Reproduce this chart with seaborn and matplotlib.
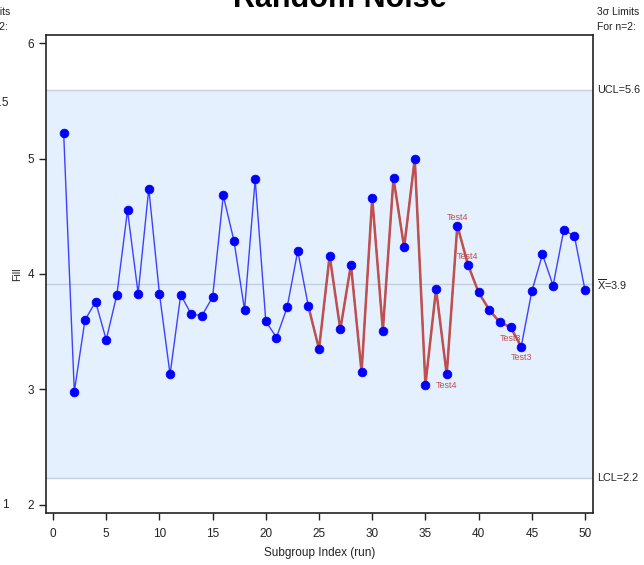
import matplotlib
matplotlib.use("Agg")
import matplotlib.pyplot as plt
import seaborn as sns
import pandas as pd

runs = list(range(1, 51))
values = [5.22, 2.98, 3.60, 3.76, 3.43, 3.82, 4.55, 3.83, 4.74, 3.83,
          3.13, 3.82, 3.65, 3.64, 3.80, 4.68, 4.29, 3.69, 4.82, 3.59,
          3.45, 3.71, 4.20, 3.72, 3.35, 4.16, 3.52, 4.08, 3.15, 4.66,
          3.51, 4.83, 4.23, 5.00, 3.04, 3.87, 3.13, 4.42, 4.08, 3.84,
          3.69, 3.58, 3.54, 3.37, 3.85, 4.17, 3.90, 4.38, 4.33, 3.86]
ucl, center, lcl = 5.59, 3.91, 2.23
limit_labels = ["UCL=5.6", r"$\overline{\mathrm{X}}$=3.9", "LCL=2.2"]
flag_start, flag_end = 24, 44
test_runs = [37, 38, 39, 43, 44]
test_labels = ["Test4", "Test4", "Test4", "Test3", "Test3"]
x_ticks = [0, 5, 10, 15, 20, 25, 30, 35, 40, 45, 50]
y_ticks = [2, 3, 4, 5, 6]

df = pd.DataFrame({"run": runs, "value": values})
flag = df[(df.run >= flag_start) & (df.run <= flag_end)]

sns.set_style("white")
plt.rcParams["font.family"] = ["Liberation Sans", "DejaVu Sans"]
plt.rcParams["mathtext.fontset"] = "custom"
plt.rcParams["mathtext.rm"] = "Liberation Sans"

fig = plt.figure(figsize=(6.44, 5.65), dpi=100)
ax = fig.add_axes([46/644, 1-513/565, 547/644, 478/565])

ax.axhspan(lcl, ucl, color="#E4F0FD", zorder=0, lw=0)
for v in (ucl, center, lcl):
    ax.axhline(v, color="#C3CEDE", lw=1.0, zorder=1)

sns.lineplot(data=df, x="run", y="value", ax=ax, color="#2222FF", lw=1.0,
             alpha=0.85, zorder=2, estimator=None, sort=False)
sns.lineplot(data=flag, x="run", y="value", ax=ax, color="#C0504D", lw=1.8,
             zorder=3, estimator=None, sort=False)
sns.scatterplot(data=df, x="run", y="value", ax=ax, color="#0000FF", s=40,
                edgecolor="#0000FF", linewidth=0.5, zorder=4)

for r, lab in zip(test_runs, test_labels):
    v = values[r - 1]
    off = 6 if v > center else -8
    ax.annotate(lab, (r, v), xytext=(0, off), textcoords="offset points",
                ha="center", va="center", fontsize=6.5, color="#C0504D", zorder=5)

ax.set_xlim(-0.66, 50.75)
ax.set_ylim(1.93, 6.07)
ax.set_xticks(x_ticks)
ax.set_yticks(y_ticks)
ax.tick_params(axis="both", which="both", direction="out", length=5, width=1,
               colors="#222222", labelsize=8.5, bottom=True, left=True)
ax.tick_params(axis="x", pad=6)
ax.set_xlabel("Subgroup Index (run)", fontsize=8.5, color="#222222", labelpad=5)
ax.set_ylabel("Fill", fontsize=7.5, color="#222222", labelpad=4)
for s in ax.spines.values():
    s.set_color("#222222")
    s.set_linewidth(1.2)

# limit labels on the right
for v, lab in zip((ucl, center, lcl), limit_labels):
    ax.text(1.007, v, lab, transform=ax.get_yaxis_transform(), ha="left",
            va="center", fontsize=7.8, color="#222222")
fig.text(597/644, 1-12/565, "3\u03c3 Limits", ha="left", va="center",
         fontsize=7.5, color="#222222")
fig.text(597/644, 1-27/565, "For n=2:", ha="left", va="center",
         fontsize=7.5, color="#222222")

# cut-off remnants on the left edge
fig.text(10/644, 1-12/565, "3\u03c3 Limits", ha="right", va="center",
         fontsize=7.5, color="#222222")
fig.text(8/644, 1-27/565, "For n=2:", ha="right", va="center",
         fontsize=7.5, color="#222222")
fig.text(9/644, 1-103/565, "5.5", ha="right", va="center", fontsize=8.5, color="#222222")
fig.text(9/644, 1-505/565, "1", ha="right", va="center", fontsize=8.5, color="#222222")

# title (partly cut at the top)
fig.text(340/644, 1-7/565, "Random Noise", ha="center", va="baseline",
         fontsize=22, fontweight="bold", color="#000000")

fig.savefig("out.png", dpi=100)
